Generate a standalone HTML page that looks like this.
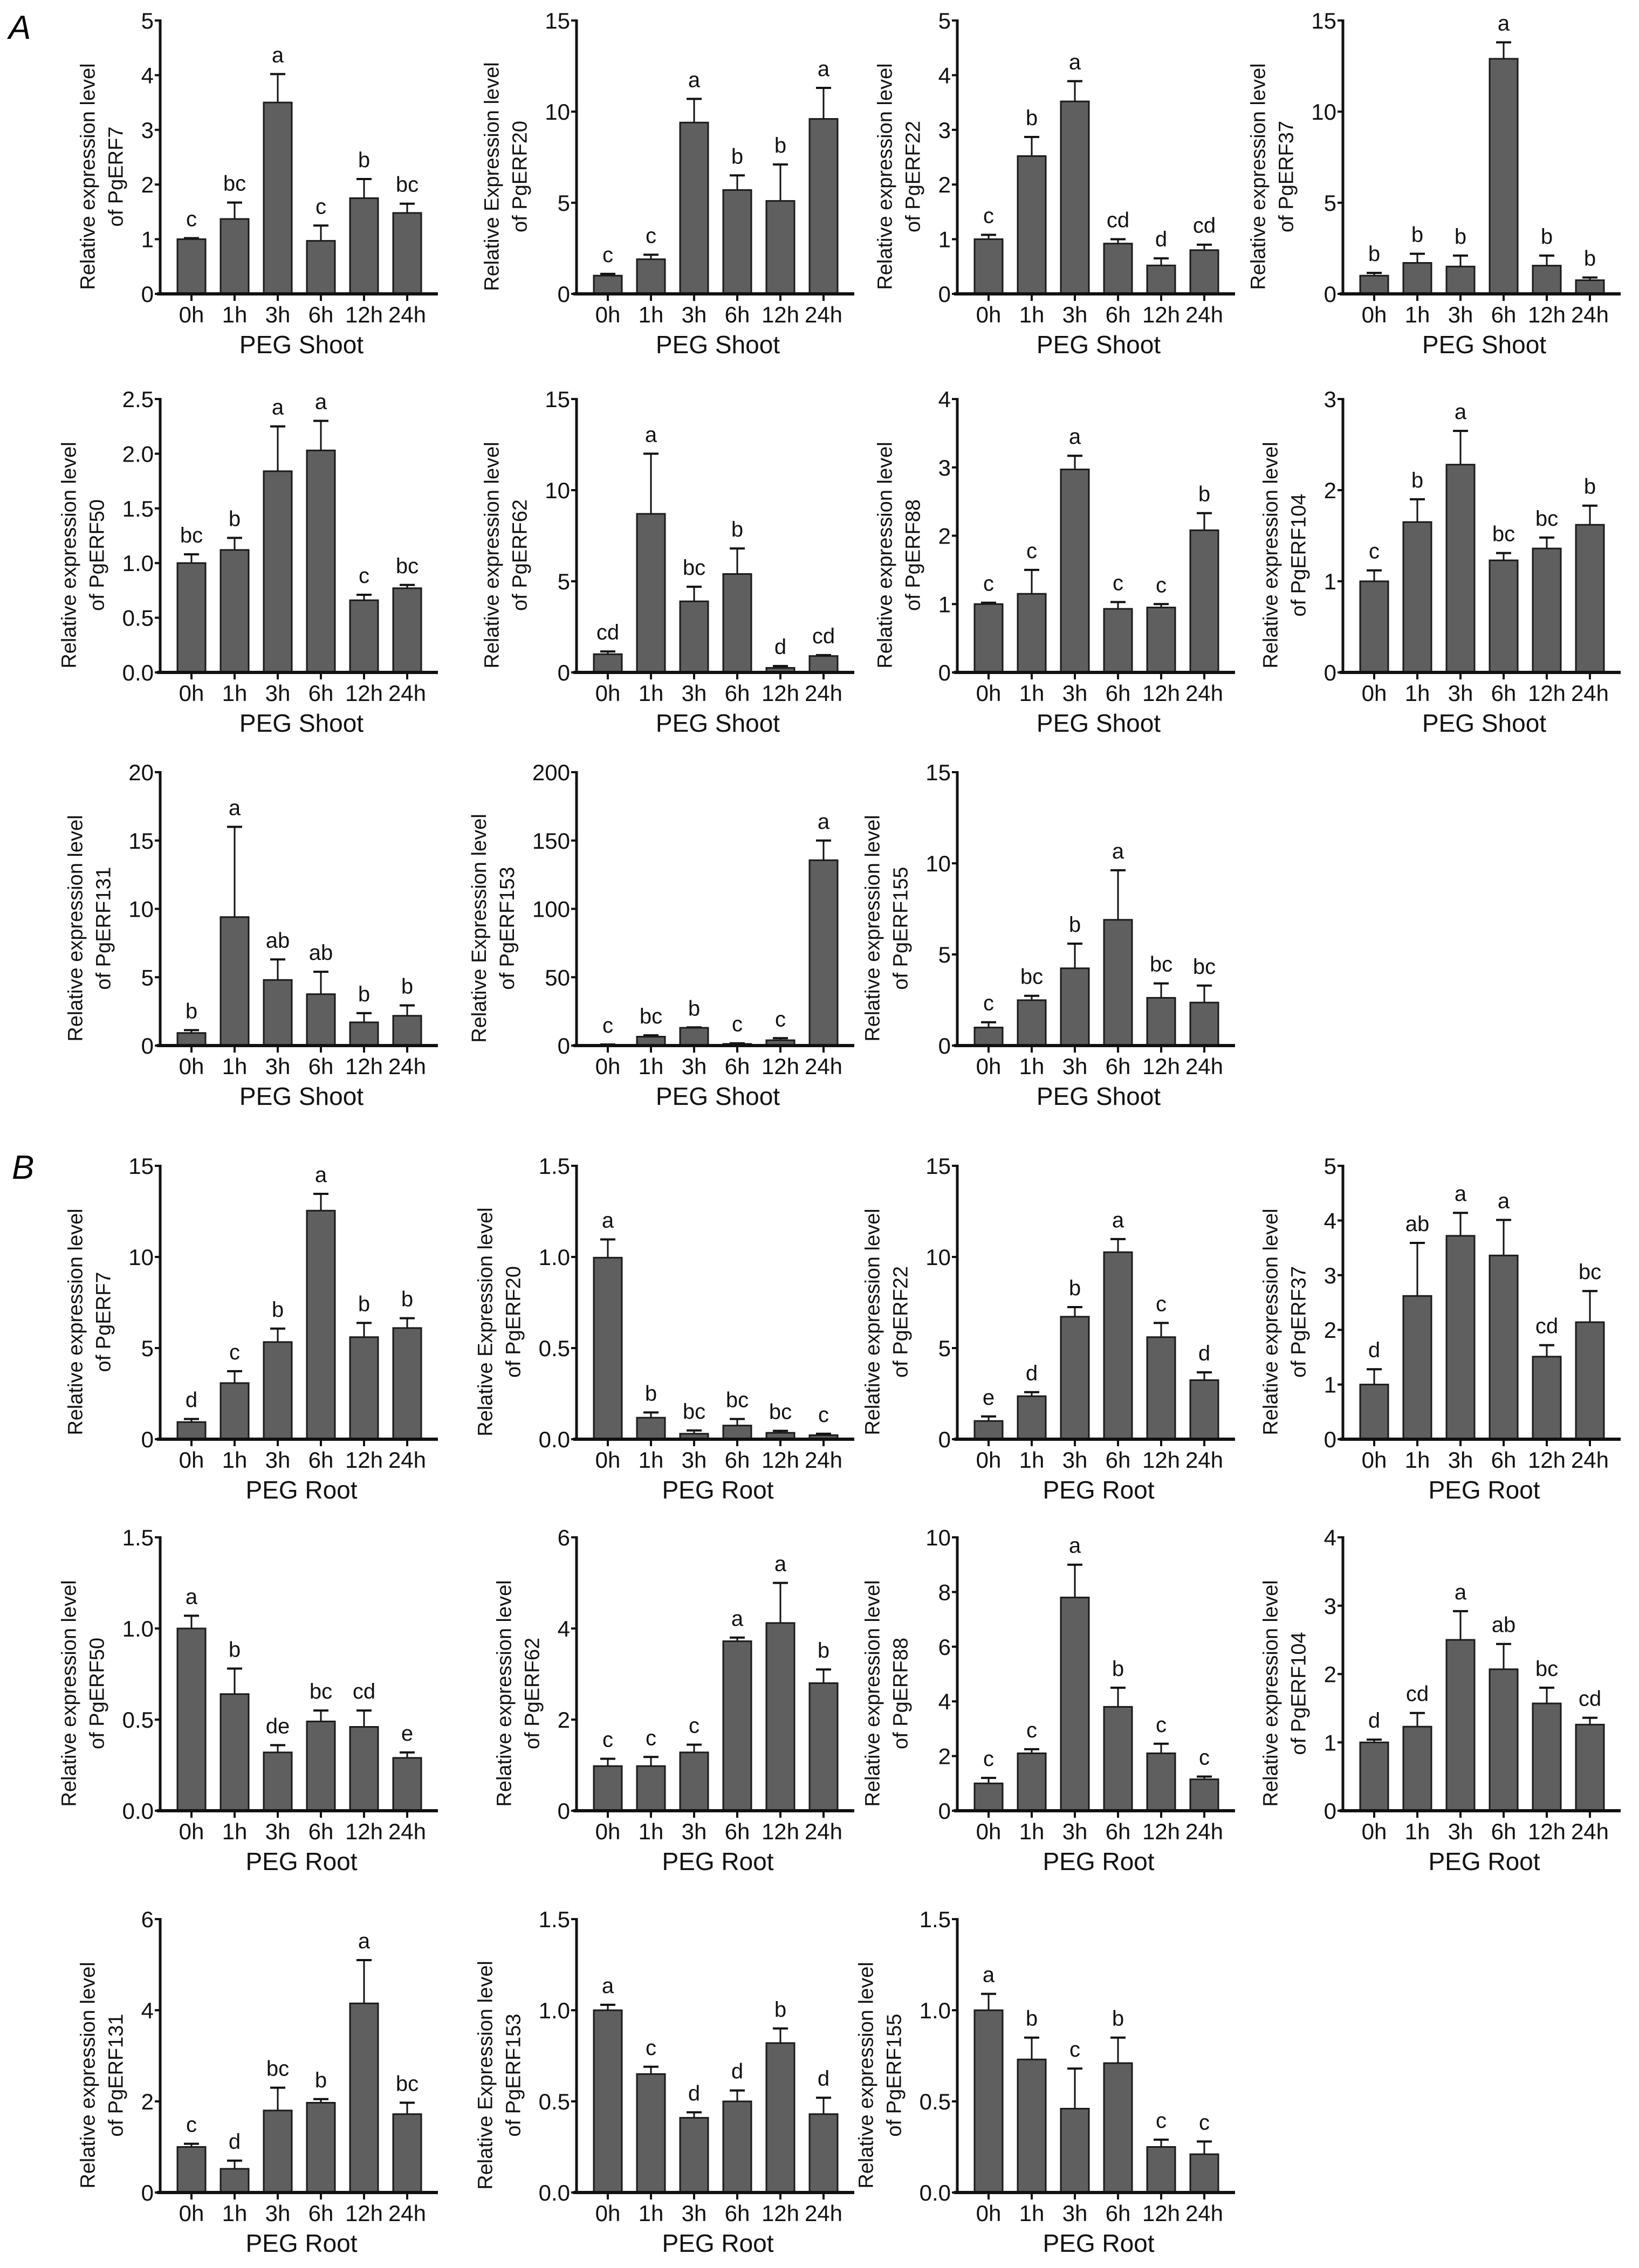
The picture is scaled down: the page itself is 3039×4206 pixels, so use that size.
<!DOCTYPE html>
<html><head><meta charset="utf-8">
<style>
html,body{margin:0;padding:0;background:#fff;}
svg{display:block;font-family:"Liberation Sans",Arial,sans-serif;}
</style></head>
<body>
<svg id="fig" width="3039" height="4206" viewBox="0 0 3039 4206" xmlns="http://www.w3.org/2000/svg">
<rect width="3039" height="4206" fill="#fff"/>
<text x="16" y="72" font-size="62" font-style="italic">A</text>
<text x="22" y="2186" font-size="62" font-style="italic">B</text>
</svg>
<script>
const categories = ["0h","1h","3h","6h","12h","24h"];
const geneNames = ["PgERF7","PgERF20","PgERF22","PgERF37","PgERF50","PgERF62","PgERF88","PgERF104","PgERF131","PgERF153","PgERF155",
                   "PgERF7","PgERF20","PgERF22","PgERF37","PgERF50","PgERF62","PgERF88","PgERF104","PgERF131","PgERF153","PgERF155"];
const tissues = ["PEG Shoot","PEG Root"];
const yMax = [5,15,5,15, 2.5,15,4,3, 20,200,15,  15,1.5,15,5, 1.5,6,10,4, 6,1.5,1.5];
const yStep = [1,5,1,5, 0.5,5,1,1, 5,50,5,  5,0.5,5,1, 0.5,2,2,1, 2,0.5,0.5];
const yDecimals = [0,0,0,0, 1,0,0,0, 0,0,0, 0,1,0,0, 1,0,0,0, 0,1,1];
const capitalE = [false,true,false,false,false,false,false,false,false,true,false, false,true,false,false,false,false,false,false,false,true,false];
const means = [
 [1.0,1.37,3.5,0.97,1.75,1.48],
 [1.0,1.9,9.4,5.7,5.1,9.6],
 [1.0,2.52,3.52,0.92,0.52,0.8],
 [1.0,1.7,1.5,12.9,1.55,0.75],
 [1.0,1.12,1.84,2.03,0.66,0.77],
 [1.0,8.7,3.9,5.4,0.25,0.9],
 [1.0,1.15,2.97,0.93,0.95,2.08],
 [1.0,1.65,2.28,1.23,1.36,1.62],
 [0.92,9.4,4.8,3.76,1.7,2.18],
 [0.5,6.5,13,1.2,3.9,135.6],
 [0.99,2.49,4.24,6.9,2.62,2.36],
 [0.94,3.08,5.33,12.54,5.6,6.1],
 [0.996,0.118,0.03,0.075,0.035,0.022],
 [1.0,2.36,6.72,10.26,5.6,3.24],
 [1.0,2.62,3.72,3.36,1.51,2.14],
 [1.0,0.64,0.32,0.49,0.46,0.29],
 [0.98,0.98,1.28,3.72,4.12,2.8],
 [1.0,2.1,7.8,3.8,2.1,1.15],
 [1.0,1.23,2.5,2.07,1.57,1.26],
 [1.0,0.52,1.8,1.97,4.15,1.72],
 [1.0,0.65,0.41,0.5,0.82,0.43],
 [1.0,0.73,0.46,0.71,0.25,0.21]
];
const errors = [
 [0.02,0.3,0.52,0.28,0.35,0.17],
 [0.1,0.25,1.3,0.8,2.0,1.7],
 [0.08,0.35,0.37,0.08,0.13,0.1],
 [0.15,0.5,0.6,0.9,0.55,0.15],
 [0.08,0.11,0.41,0.27,0.05,0.03],
 [0.15,3.3,0.8,1.4,0.1,0.05],
 [0.02,0.35,0.2,0.1,0.05,0.25],
 [0.12,0.25,0.37,0.08,0.12,0.21],
 [0.21,6.6,1.5,1.64,0.67,0.76],
 [0.3,1,0.3,0.5,1.5,14.4],
 [0.29,0.24,1.35,2.72,0.79,0.93],
 [0.17,0.65,0.74,0.92,0.78,0.54],
 [0.1,0.029,0.018,0.036,0.011,0.008],
 [0.25,0.22,0.53,0.72,0.78,0.43],
 [0.28,0.97,0.42,0.65,0.21,0.57],
 [0.07,0.14,0.04,0.06,0.09,0.03],
 [0.16,0.2,0.17,0.08,0.88,0.3],
 [0.2,0.15,1.2,0.7,0.35,0.1],
 [0.04,0.2,0.42,0.37,0.23,0.1],
 [0.07,0.18,0.5,0.08,0.95,0.25],
 [0.03,0.04,0.03,0.06,0.08,0.09],
 [0.09,0.12,0.22,0.14,0.04,0.07]
];
const letters = [
 ["c","bc","a","c","b","bc"],
 ["c","c","a","b","b","a"],
 ["c","b","a","cd","d","cd"],
 ["b","b","b","a","b","b"],
 ["bc","b","a","a","c","bc"],
 ["cd","a","bc","b","d","cd"],
 ["c","c","a","c","c","b"],
 ["c","b","a","bc","bc","b"],
 ["b","a","ab","ab","b","b"],
 ["c","bc","b","c","c","a"],
 ["c","bc","b","a","bc","bc"],
 ["d","c","b","a","b","b"],
 ["a","b","bc","bc","bc","c"],
 ["e","d","b","a","c","d"],
 ["d","ab","a","a","cd","bc"],
 ["a","b","de","bc","cd","e"],
 ["c","c","c","a","a","b"],
 ["c","c","a","b","c","c"],
 ["d","cd","a","ab","bc","cd"],
 ["c","d","bc","b","a","bc"],
 ["a","c","d","d","b","d"],
 ["a","b","c","b","c","c"]
];

const NS="http://www.w3.org/2000/svg";
const svg=document.getElementById('fig');
const colX=[297,1069,1775,2490];
const rowTop=[38,740,1432,2162,2851,3559];
const PH=507, AXLEN=515, SP=80, BW=52, FIRST=58;
function mk(tag,attrs,parent){const e=document.createElementNS(NS,tag);for(const k in attrs)e.setAttribute(k,attrs[k]);(parent||svg).appendChild(e);return e;}

for(let p=0;p<22;p++){
  const section=p<11?0:1, idx=p%11, row=section*3+Math.floor(idx/4), col=idx%4;
  const ax=colX[col], top=rowTop[row], zero=top+PH;
  const y=v=>zero-v/yMax[p]*PH;
  const xc=i=>ax+FIRST+i*SP;
  const g=mk('g',{});
  
  
  const ya=mk('line',{x1:ax,y1:top-2,x2:ax,y2:zero+2,stroke:'#111','stroke-width':5},g);
  
  
  const nT=Math.round(yMax[p]/yStep[p]);
  let maxW=0;
  for(let t=0;t<=nT;t++){
    const v=t*yStep[p], ty=y(v);
    const tk=mk('line',{x1:ax-10,y1:ty,x2:ax,y2:ty,stroke:'#111','stroke-width':4},g);
    
    
    const tl=mk('text',{x:ax-12,y:ty+15,'font-size':42,'text-anchor':'end',fill:'#111'},g);
    tl.textContent=v.toFixed(yDecimals[p]);
    
    
    try{maxW=Math.max(maxW,tl.getComputedTextLength());}catch(e){maxW=Math.max(maxW,tl.textContent.length*23);}
  }
  for(let i=0;i<6;i++){
    const m=means[p][i], e=errors[p][i], cx=xc(i);
    const et=y(m+e);
    const el=mk('line',{x1:cx,y1:et,x2:cx,y2:y(m),stroke:'#111','stroke-width':3},g);
    
    
    const ec=mk('line',{x1:cx-14,y1:et,x2:cx+14,y2:et,stroke:'#111','stroke-width':4},g);
    
    
    const b=mk('rect',{x:cx-BW/2,y:y(m),width:BW,height:zero-y(m),fill:'#5f5f5f',stroke:'#1a1a1a','stroke-width':3},g);
    
    
    const lt=mk('text',{x:cx,y:et-22,'font-size':40,'text-anchor':'middle',fill:'#111'},g);
    lt.textContent=letters[p][i];
    
    
    const xt=mk('line',{x1:cx,y1:zero,x2:cx,y2:zero+13,stroke:'#111','stroke-width':4},g);
    
    
    const xl=mk('text',{x:cx,y:zero+53,'font-size':42,'text-anchor':'middle',fill:'#111'},g);
    xl.textContent=categories[i];
    
    
  }
  const xa=mk('line',{x1:ax-6,y1:zero,x2:ax+AXLEN,y2:zero,stroke:'#111','stroke-width':6},g);
  
  
  const xtt=mk('text',{x:ax+262,y:zero+110,'font-size':46,'text-anchor':'middle',fill:'#111'},g);
  xtt.textContent=tissues[section];
  
  
  const cy=top+PH/2+36;
  const l2x=ax-12-maxW-34;
  const l1=mk('text',{x:0,y:0,'font-size':38,'text-anchor':'middle',fill:'#111',transform:`translate(${l2x-52},${cy}) rotate(-90)`},g);
  l1.textContent=capitalE[p]?'Relative Expression level':'Relative expression level';
  
  
  const l2=mk('text',{x:0,y:0,'font-size':38,'text-anchor':'middle',fill:'#111',transform:`translate(${l2x},${cy}) rotate(-90)`},g);
  l2.textContent='of '+geneNames[p];
  
  
}
</script>
</body></html>
